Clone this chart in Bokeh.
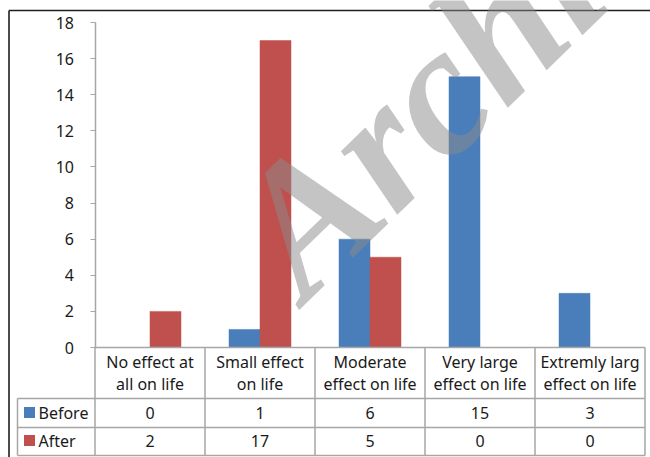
from bokeh.plotting import figure
from bokeh.models import Range1d, FixedTicker, Label, ColumnDataSource
from bokeh.transform import dodge
from bokeh.core.properties import value
from bokeh.embed import file_html
from bokeh.resources import INLINE

# ---- data ----
categories = ["No effect at\nall on life", "Small effect\non life", "Moderate\neffect on life",
              "Very large\neffect on life", "Extremly larg\neffect on life"]
before = [0, 1, 6, 15, 3]
after = [2, 17, 5, 0, 0]
series_names = ["Before", "After"]
y_ticks = [0, 2, 4, 6, 8, 10, 12, 14, 16, 18]

BLUE = "#4a7ebb"
RED = "#c0504d"
GRID = "#a6a6a6"
TXT = "#1a1a1a"
FONT = "Noto Sans"

# ---- layout constants (page pixels) ----
W, H = 650, 457
CAT_W = 110
AXIS_X = 94.5        # page x of y axis
ZERO_Y = 347         # page y of value 0
TOP_Y = 22           # page y of value 18
PX = (ZERO_Y - TOP_Y) / 18.0
BAR_W = 31 / CAT_W


def xd(px):
    return (px - AXIS_X) / CAT_W


def yd(py):
    return (ZERO_Y - py) / PX


n = len(categories)
xpos = [i + 0.5 for i in range(n)]
src = ColumnDataSource(dict(x=xpos, before=before, after=after))

p = figure(width=W, height=H, output_backend="svg", toolbar_location=None,
           x_range=Range1d(xd(0), xd(W)),
           y_range=Range1d(yd(H), yd(0)),
           x_axis_type=None,
           min_border_left=0, min_border_right=0, min_border_top=0, min_border_bottom=0)
p.outline_line_color = None
p.xgrid.visible = False
p.ygrid.visible = False
p.background_fill_color = "white"
p.border_fill_color = "white"

p.vbar(x=dodge("x", -BAR_W / 2, range=p.x_range), top="before", width=BAR_W, bottom=0,
       source=src, fill_color=BLUE, line_color=BLUE, line_width=0.5)
p.vbar(x=dodge("x", BAR_W / 2, range=p.x_range), top="after", width=BAR_W, bottom=0,
       source=src, fill_color=RED, line_color=RED, line_width=0.5)

ax = p.yaxis[0]
ax.fixed_location = 0
ax.bounds = (0, 18)
ax.ticker = FixedTicker(ticks=y_ticks)
ax.minor_tick_line_color = None
ax.major_tick_in = 0
ax.major_tick_out = 5
ax.axis_line_color = GRID
ax.axis_line_width = 1.5
ax.major_tick_line_color = GRID
ax.major_tick_line_width = 1.2
ax.major_label_text_font = FONT
ax.major_label_text_font_size = "16px"
ax.major_label_text_color = TXT
ax.major_label_standoff = 16

# ---- data table below the axis ----
leg_x = xd(17)
r0, r1, r2, r3 = yd(ZERO_Y), yd(398), yd(427), yd(455)
p.segment(x0=[0, leg_x, leg_x, leg_x], y0=[r0, r1, r2, r3],
          x1=[n] * 4, y1=[r0, r1, r2, r3], line_color=GRID, line_width=1.5)
p.segment(x0=list(range(n + 1)), y0=[r0] * (n + 1), x1=list(range(n + 1)), y1=[r3] * (n + 1),
          line_color=GRID, line_width=1.5)
p.segment(x0=[leg_x], y0=[r1], x1=[leg_x], y1=[r3], line_color=GRID, line_width=1.5)

line1 = [c.split("\n")[0] for c in categories]
line2 = [c.split("\n")[1] for c in categories]
p.text(x=xpos, y=[yd(361)] * n, text=line1, text_align="center", text_baseline="middle",
       text_font=value(FONT), text_font_size="16px", text_color=TXT)
p.text(x=xpos, y=[yd(383)] * n, text=line2, text_align="center", text_baseline="middle",
       text_font=value(FONT), text_font_size="16px", text_color=TXT)

ry = [yd(412), yd(440)]
for vals, yy in zip([before, after], ry):
    p.text(x=xpos, y=[yy] * n, text=[str(v) for v in vals], text_align="center",
           text_baseline="middle", text_font=value(FONT), text_font_size="16px", text_color=TXT)

p.scatter(x=[xd(29)] * 2, y=ry, marker="square", size=11,
          fill_color=[BLUE, RED], line_color=None)
p.text(x=[xd(38)] * 2, y=ry, text=series_names, text_align="left",
       text_baseline="middle", text_font=value(FONT), text_font_size="16px", text_color=TXT)

# outer chart border (left and top)
p.segment(x0=[xd(8.5), xd(8.5)], y0=[yd(10), yd(10)], x1=[xd(8.5), xd(W)],
          y1=[yd(H), yd(10)], line_color="#1f1f1f", line_width=1.6)

# watermark
wm = Label(x=xd(262), y=yd(258), text="Archive", angle=0.77,
           text_font="Liberation Serif", text_font_style="bold italic",
           text_font_size="185px", text_color="#8a8a8a", text_alpha=0.5,
           text_baseline="alphabetic", text_align="left")
p.add_layout(wm)

open("out.html", "w").write(file_html(p, INLINE))
